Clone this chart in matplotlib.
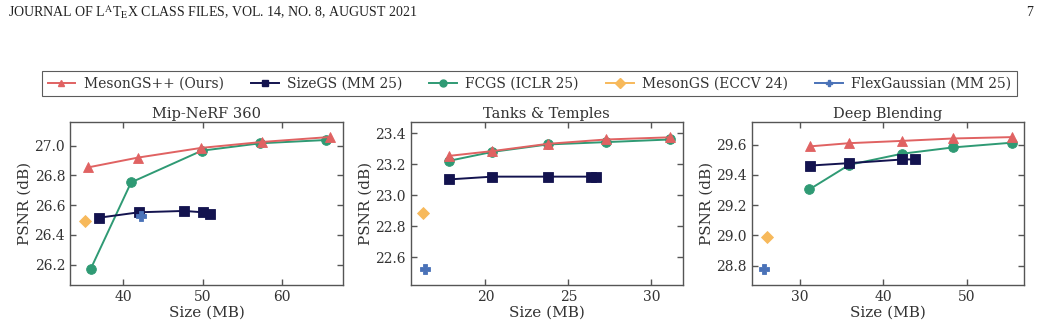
import matplotlib
matplotlib.use("Agg")
import matplotlib.pyplot as plt
from matplotlib.lines import Line2D

plt.rcParams['font.family'] = ['DejaVu Serif']
plt.rcParams['mathtext.fontset'] = 'stix'

methods = ["MesonGS++ (Ours)", "SizeGS (MM 25)", "FCGS (ICLR 25)", "MesonGS (ECCV 24)", "FlexGaussian (MM 25)"]
colors = ["#e06262", "#13134f", "#2f9a74", "#f7b95b", "#4a72b8"]
markers = ["^", "s", "o", "D", "P"]
msizes = [7, 7, 7, 6, 7]

titles = ["Mip-NeRF 360", "Tanks & Temples", "Deep Blending"]

# Mip-NeRF 360
mip_size = {
    "MesonGS++ (Ours)": [35.6, 41.9, 49.85, 57.55, 66.0],
    "SizeGS (MM 25)": [36.9, 42.0, 47.7, 50.0, 51.0],
    "FCGS (ICLR 25)": [35.9, 41.0, 49.9, 57.3, 65.6],
    "MesonGS (ECCV 24)": [35.2],
    "FlexGaussian (MM 25)": [42.3],
}
mip_psnr = {
    "MesonGS++ (Ours)": [26.854, 26.920, 26.985, 27.025, 27.058],
    "SizeGS (MM 25)": [26.515, 26.552, 26.561, 26.552, 26.540],
    "FCGS (ICLR 25)": [26.170, 26.753, 26.966, 27.016, 27.038],
    "MesonGS (ECCV 24)": [26.494],
    "FlexGaussian (MM 25)": [26.527],
}
# Tanks & Temples
tt_size = {
    "MesonGS++ (Ours)": [17.8, 20.42, 23.76, 27.26, 31.1],
    "SizeGS (MM 25)": [17.8, 20.42, 23.76, 26.36, 26.66],
    "FCGS (ICLR 25)": [17.8, 20.42, 23.76, 27.26, 31.1],
    "MesonGS (ECCV 24)": [16.26],
    "FlexGaussian (MM 25)": [16.36],
}
tt_psnr = {
    "MesonGS++ (Ours)": [23.254, 23.285, 23.332, 23.360, 23.374],
    "SizeGS (MM 25)": [23.102, 23.120, 23.120, 23.120, 23.120],
    "FCGS (ICLR 25)": [23.222, 23.280, 23.328, 23.343, 23.360],
    "MesonGS (ECCV 24)": [22.882],
    "FlexGaussian (MM 25)": [22.523],
}
# Deep Blending
db_size = {
    "MesonGS++ (Ours)": [31.24, 35.92, 42.24, 48.4, 55.4],
    "SizeGS (MM 25)": [31.24, 35.92, 42.24, 43.8],
    "FCGS (ICLR 25)": [31.12, 35.92, 42.24, 48.4, 55.4],
    "MesonGS (ECCV 24)": [26.04],
    "FlexGaussian (MM 25)": [25.68],
}
db_psnr = {
    "MesonGS++ (Ours)": [29.589, 29.610, 29.625, 29.641, 29.650],
    "SizeGS (MM 25)": [29.462, 29.478, 29.502, 29.503],
    "FCGS (ICLR 25)": [29.304, 29.467, 29.540, 29.582, 29.613],
    "MesonGS (ECCV 24)": [28.987],
    "FlexGaussian (MM 25)": [28.777],
}

sizes = [mip_size, tt_size, db_size]
psnrs = [mip_psnr, tt_psnr, db_psnr]
xlims = [(33.3, 67.7), (15.5, 31.9), (24.2, 56.9)]
ylims = [(26.063, 27.159), (22.42, 23.473), (28.672, 29.75)]
xticks = [[40, 50, 60], [20, 25, 30], [30, 40, 50]]
yticks = [[26.2, 26.4, 26.6, 26.8, 27.0], [22.6, 22.8, 23.0, 23.2, 23.4], [28.8, 29.0, 29.2, 29.4, 29.6]]

fig = plt.figure(figsize=(10.41, 3.25), dpi=100)
W, H = 1041, 325
lefts = [70, 410.7, 751.7]
rights = [343, 683, 1024]
top, bottom = 122, 285

order = [2, 1, 0, 3, 4]
for i in range(3):
    ax = fig.add_axes([lefts[i] / W, 1 - bottom / H, (rights[i] - lefts[i]) / W, (bottom - top) / H])
    for k in order:
        m = methods[k]
        ax.plot(sizes[i][m], psnrs[i][m], color=colors[k], marker=markers[k],
                markersize=msizes[k], linewidth=1.4, markeredgewidth=0.6,
                markeredgecolor=colors[k], zorder=3 + (k == 0))
    ax.set_xlim(*xlims[i])
    ax.set_ylim(*ylims[i])
    ax.set_xticks(xticks[i])
    ax.set_yticks(yticks[i])
    ax.set_yticklabels([f"{v:.1f}" for v in yticks[i]])
    ax.tick_params(direction='in', top=True, right=True, length=4, width=1.0,
                   colors='#555555', labelcolor='#333333', labelsize=10)
    for s in ax.spines.values():
        s.set_color('#555555')
        s.set_linewidth(1.0)
    ax.set_title(titles[i], fontsize=10.5, color='#333333', pad=3)
    ax.set_xlabel("Size (MB)", fontsize=11, color='#333333', labelpad=1)
    ax.set_ylabel("PSNR (dB)", fontsize=11, color='#333333', labelpad=2)

handles = [Line2D([], [], color=colors[k], marker=markers[k], markersize=5, linewidth=1.4)
           for k in range(5)]
leg = fig.legend(handles, methods, ncol=5, loc='center',
                 bbox_to_anchor=((44 + 1015) / 2 / W, 1 - 83.5 / H),
                 fontsize=10, frameon=True, fancybox=False, edgecolor='#333333',
                 handlelength=2.0, columnspacing=1.95, handletextpad=0.6,
                 borderpad=0.4)
leg.get_frame().set_linewidth(0.8)
for t in leg.get_texts():
    t.set_color('#333333')

fig.text(8 / W, 1 - 12 / H,
         r"JOURNAL OF L$^{\mathrm{A}}$T$_{\mathrm{E}}$X CLASS FILES, VOL. 14, NO. 8, AUGUST 2021",
         fontsize=10, family='Liberation Serif', va='center', ha='left', color='#222222')
fig.text(1033 / W, 1 - 12 / H, "7", fontsize=10, family='Liberation Serif',
         va='center', ha='right', color='#222222')

fig.savefig("out.png", dpi=100)
